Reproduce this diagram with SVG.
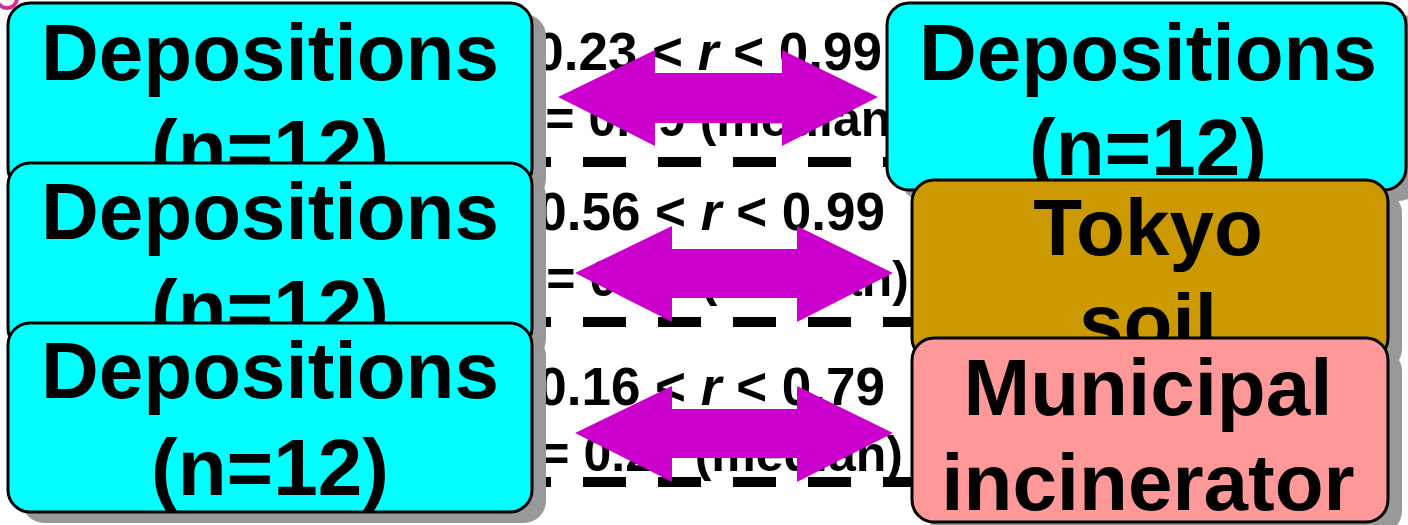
<svg xmlns="http://www.w3.org/2000/svg" width="1408" height="525" viewBox="0 0 1408 525">
<style>
.t{font-family:"Liberation Sans",Arial,sans-serif;font-weight:bold;fill:#000}
.big{font-size:80px;text-anchor:middle}
.mid{font-size:50px}
.hi{font-size:53px}
.sh{fill:#999999}
.box{stroke:#000;stroke-width:3}
.cy{fill:#00FFFF}
.gold{fill:#CC9900}
.pink{fill:#FF9999}
.dash{stroke:#000;stroke-width:10;stroke-dasharray:43 32;fill:none}
.arr{fill:#CC00CC}
</style>
<circle cx="7" cy="-2" r="10" fill="none" stroke="#CC3399" stroke-width="4"/>
<g id="labels">
<text class="t hi" x="882" y="70" text-anchor="end">0.23 &lt; <tspan font-style="italic">r</tspan> &lt; 0.99</text>
<text class="t mid" x="512" y="136"><tspan font-style="italic">r</tspan> = 0.79 (median)</text>
<text class="t hi" x="885" y="230" text-anchor="end">0.56 &lt; <tspan font-style="italic">r</tspan> &lt; 0.99</text>
<text class="t mid" x="513" y="296"><tspan font-style="italic">r</tspan> = 0.89 (median)</text>
<text class="t hi" x="885" y="405" text-anchor="end">0.16 &lt; <tspan font-style="italic">r</tspan> &lt; 0.79</text>
<text class="t mid" x="507" y="471"><tspan font-style="italic">r</tspan> = 0.27 (median)</text>
</g>
<g id="separators">
<line class="dash" x1="508" y1="162" x2="930" y2="162"/>
<line class="dash" x1="508" y1="322" x2="930" y2="322"/>
<line class="dash" x1="508" y1="482" x2="930" y2="482"/>
</g>
<g id="connectors">
<polygon class="arr" points="558,97 655,50 655,73 782,73 782,50 878,97 782,146 782,123 655,123 655,146"/>
<polygon class="arr" points="575,273 672,226 672,249 797,249 797,226 893,273 797,322 797,298 672,298 672,322"/>
<polygon class="arr" points="575,433 672,386 672,409 797,409 797,386 893,433 797,482 797,458 672,458 672,482"/>
</g>
<g id="dep-left-1">
<rect class="sh" x="22" y="14" width="524" height="187" rx="22"/>
<rect class="box cy" x="8" y="3" width="524" height="187" rx="22"/>
<text class="t big" x="270" y="80">Depositions</text>
<text class="t big" x="270" y="176">(n=12)</text>
</g>
<g id="dep-left-2">
<rect class="sh" x="22" y="174" width="524" height="187" rx="22"/>
<rect class="box cy" x="8" y="163" width="524" height="187" rx="22"/>
<text class="t big" x="270" y="239">Depositions</text>
<text class="t big" x="270" y="336">(n=12)</text>
</g>
<g id="dep-left-3">
<rect class="sh" x="22" y="334" width="524" height="189" rx="22"/>
<rect class="box cy" x="8" y="323" width="524" height="189" rx="22"/>
<text class="t big" x="270" y="398">Depositions</text>
<text class="t big" x="270" y="495">(n=12)</text>
</g>
<g id="dep-right">
<rect class="sh" x="901" y="14" width="520" height="187" rx="22"/>
<rect class="box cy" x="887" y="3" width="519" height="187" rx="22"/>
<text class="t big" x="1148" y="80">Depositions</text>
<text class="t big" x="1148" y="175">(n=12)</text>
</g>
<g id="tokyo-soil">
<rect class="sh" x="926" y="191" width="476" height="180" rx="22"/>
<rect class="box gold" x="912" y="180" width="476" height="180" rx="22"/>
<text class="t big" x="1148" y="255">Tokyo</text>
<text class="t big" x="1148" y="350">soil</text>
</g>
<g id="incinerator">
<rect class="sh" x="926" y="349" width="476" height="184" rx="22"/>
<rect class="box pink" x="912" y="338" width="476" height="184" rx="22"/>
<text class="t big" x="1148" y="415">Municipal</text>
<text class="t big" x="1148" y="510">incinerator</text>
</g>
</svg>
